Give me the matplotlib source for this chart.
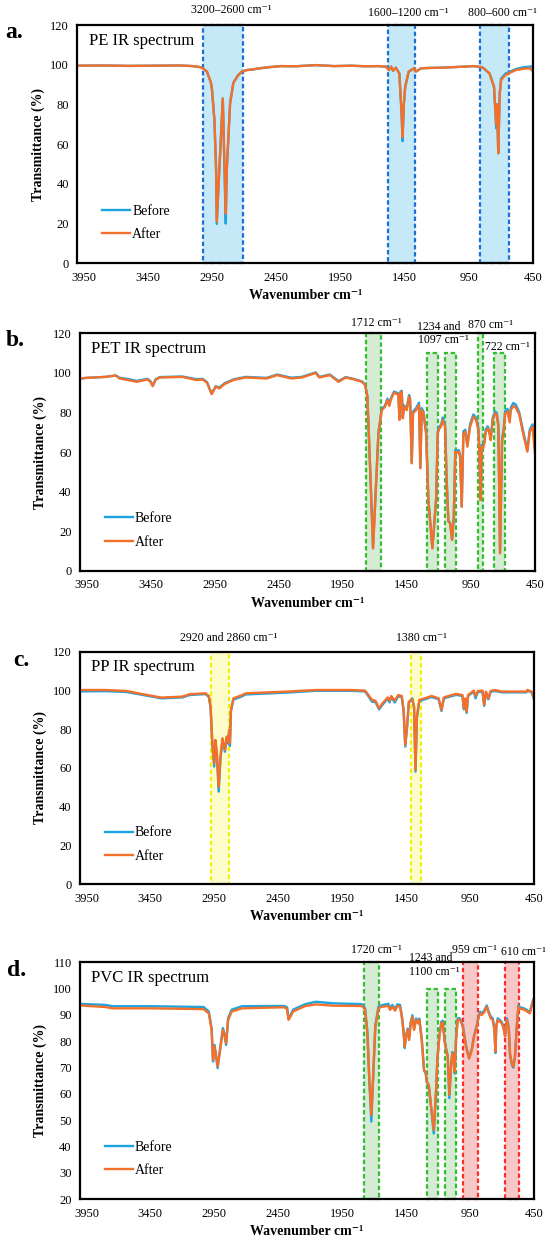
import numpy as np
import matplotlib
matplotlib.use('Agg')
import matplotlib.pyplot as plt
from matplotlib.patches import Rectangle

plt.rcParams['font.family'] = ['Liberation Serif', 'DejaVu Serif']

# ---------------- PE ----------------
pe_wn = [4000, 3800, 3600, 3400, 3200, 3100, 3044, 3018, 2990, 2962, 2953, 2932, 2919, 2914,
         2867, 2844, 2836, 2810, 2785, 2750, 2719, 2680, 2635, 2580, 2500, 2416, 2300, 2143,
         2000, 1870, 1750, 1652, 1597, 1575, 1556, 1542, 1520, 1493, 1475, 1468, 1458, 1447,
         1420, 1379, 1365, 1324, 1250, 1160, 1000, 914, 846, 791, 756, 739, 732, 723, 712,
         701, 668, 587, 520, 477, 450]
pe_after = [99.5, 99.6, 99.4, 99.5, 99.6, 99.3, 98.8, 98.0, 96.5, 91.5, 88.9, 72.0, 47.0, 21.0,
            83.0, 25.0, 47.0, 80.7, 90.8, 94.5, 96.5, 97.3, 97.6, 98.2, 98.8, 99.3, 99.2, 99.8,
            99.3, 99.5, 99.2, 99.3, 99.0, 97.3, 99.0, 97.0, 98.5, 95.6, 75.0, 63.5, 80.0, 88.9,
            96.5, 98.2, 96.5, 98.2, 98.4, 98.5, 99.0, 99.3, 98.7, 95.6, 88.9, 70.0, 80.0, 55.4, 85.0,
            92.3, 94.8, 97.3, 98.0, 98.2, 96.5]
pe_before = [99.5, 99.6, 99.4, 99.5, 99.6, 99.3, 98.8, 98.0, 96.5, 91.5, 88.9, 72.0, 47.0, 19.8,
             83.0, 20.0, 47.0, 80.7, 90.8, 94.5, 96.5, 97.3, 97.6, 98.2, 98.8, 99.3, 99.2, 99.8,
             99.3, 99.5, 99.2, 99.3, 99.0, 97.3, 99.0, 97.0, 98.5, 95.6, 75.0, 61.5, 80.0, 88.9,
             96.5, 98.2, 96.5, 98.2, 98.4, 98.5, 99.0, 99.3, 98.7, 95.6, 88.9, 68.0, 80.0, 55.4, 85.0,
             93.0, 95.5, 97.8, 98.8, 99.0, 99.2]
pe_band_lo = [2711, 1370, 641]
pe_band_hi = [3023, 1583, 865]
pe_band_top = [120, 120, 120]

# ---------------- PET ----------------
pet_wn = [4000, 3950, 3803, 3721, 3693, 3625, 3557, 3474, 3450, 3433, 3410, 3379, 3201, 3091,
          3042, 3009, 2973, 2941, 2913, 2872, 2800, 2708, 2544, 2462, 2352, 2270, 2188, 2161,
          2133, 2051, 1983, 1928, 1860, 1800, 1776, 1758, 1737, 1714, 1690, 1672, 1646, 1620,
          1602, 1587, 1576, 1550, 1516, 1508, 1500, 1490, 1482, 1472, 1451, 1433, 1425, 1412,
          1402, 1378, 1355, 1345, 1334, 1321, 1300, 1282, 1251, 1222, 1209, 1196, 1183, 1170,
          1152, 1139, 1126, 1113, 1097, 1084, 1072, 1063, 1045, 1035, 1022, 1009, 994, 978,
          957, 931, 910, 892, 884, 874, 866, 856, 845, 835, 819, 806, 796, 780, 762, 749, 736,
          723, 707, 697, 683, 665, 648, 640, 620, 600, 573, 546, 510, 491, 469, 450]
pet_after = [97.2, 97.5, 98.0, 98.7, 97.2, 96.4, 95.5, 96.7, 95.5, 93.3, 96.5, 97.7, 98.0, 96.4,
             96.7, 95.0, 89.3, 93.0, 92.2, 94.4, 96.5, 97.7, 97.2, 98.9, 97.2, 97.7, 99.4, 100.0,
             97.7, 98.9, 95.5, 97.7, 96.7, 95.5, 93.9, 88.0, 52.6, 11.3, 44.2, 69.4, 81.2, 82.9,
             86.3, 83.3, 86.3, 90.0, 89.0, 76.2, 90.0, 90.5, 77.0, 82.9, 81.2, 88.0, 86.3, 54.3,
             79.6, 81.2, 83.8, 51.8, 81.2, 79.6, 69.4, 35.7, 11.3, 35.7, 69.4, 72.0, 72.8, 76.2,
             72.8, 44.2, 24.8, 24.0, 15.5, 27.3, 60.2, 59.4, 60.2, 57.6, 32.3, 69.4, 70.3, 62.7,
             72.8, 77.9, 76.2, 71.1, 59.4, 35.7, 62.7, 61.9, 64.4, 70.3, 72.0, 69.4, 66.0, 76.2,
             79.6, 78.7, 72.8, 8.8, 66.0, 68.6, 79.5, 80.5, 75.0, 81.0, 83.3, 82.5, 79.0, 70.3,
             60.2, 70.3, 72.8, 59.3]
pet_before = [97.2, 97.5, 98.0, 98.7, 97.6, 96.9, 96.0, 97.0, 95.8, 93.6, 96.8, 97.9, 98.2, 96.8,
              97.0, 95.3, 89.6, 93.3, 92.6, 94.8, 96.8, 98.0, 97.5, 99.2, 97.6, 98.0, 99.7, 100.3,
              98.0, 99.2, 95.9, 97.9, 96.9, 95.7, 94.1, 88.2, 52.8, 11.5, 44.4, 69.8, 81.8, 83.5,
              87.0, 84.0, 87.0, 90.6, 89.6, 76.8, 90.5, 91.0, 77.5, 83.6, 82.0, 88.8, 87.2, 54.8,
              80.5, 82.2, 85.0, 52.2, 82.2, 80.5, 70.0, 36.0, 11.5, 36.0, 70.2, 73.0, 73.8, 77.5,
              73.8, 44.8, 25.2, 24.4, 15.8, 27.8, 61.0, 60.3, 61.0, 58.4, 32.6, 70.5, 71.3, 63.5,
              74.0, 79.0, 77.3, 72.1, 60.2, 36.0, 63.6, 63.0, 65.4, 71.4, 73.0, 70.4, 67.0, 77.5,
              80.5, 79.8, 73.8, 9.0, 67.5, 70.3, 80.8, 81.8, 76.0, 82.3, 84.8, 84.0, 80.0, 71.5,
              61.0, 71.5, 74.0, 62.0]
pet_band_lo = [1651, 1209, 1069, 853, 684]
pet_band_hi = [1768, 1290, 1152, 895, 767]
pet_band_top = [120, 110, 110, 120, 110]

# ---------------- PP ----------------
pp_wn = [4000, 3802, 3637, 3473, 3363, 3198, 3144, 3020, 2993, 2979, 2965, 2951, 2941, 2930,
         2916, 2902, 2886, 2867, 2853, 2842, 2834, 2828, 2820, 2801, 2732, 2705, 2376, 2156,
         1882, 1772, 1745, 1717, 1690, 1662, 1635, 1594, 1580, 1566, 1539, 1512, 1484, 1470,
         1457, 1443, 1429, 1402, 1388, 1377, 1366, 1347, 1306, 1251, 1196, 1174, 1155, 1059,
         1010, 999, 988, 977, 966, 922, 908, 889, 853, 840, 826, 807, 790, 757, 702, 510, 502,
         469, 450]
pp_after = [100.2, 100.2, 99.7, 97.6, 96.3, 96.8, 98.0, 98.5, 97.1, 91.6, 72.7, 62.4, 74.4, 67.6,
            50.4, 65.8, 75.3, 69.3, 76.2, 73.6, 79.6, 72.7, 89.9, 95.9, 97.6, 98.5, 99.4, 100.2,
            100.2, 99.9, 97.6, 95.1, 94.7, 90.8, 93.3, 96.4, 94.7, 97.1, 94.7, 97.6, 97.1, 89.9,
            71.9, 81.3, 94.2, 95.4, 91.6, 59.0, 86.5, 95.1, 95.9, 97.1, 95.9, 89.9, 96.4, 98.2,
            97.6, 90.8, 95.9, 89.0, 97.6, 99.9, 97.1, 99.7, 99.9, 92.5, 99.4, 95.9, 99.7, 100.2,
            99.4, 99.4, 100.2, 99.4, 95.9]
pp_before = [99.5, 99.6, 99.2, 97.2, 95.9, 96.4, 97.6, 98.1, 96.7, 91.0, 71.5, 60.7, 73.6, 66.8,
             47.8, 64.8, 74.5, 68.4, 75.4, 72.6, 78.8, 71.4, 89.2, 95.2, 97.0, 97.9, 98.9, 99.8,
             99.8, 99.5, 97.0, 94.2, 94.0, 90.2, 92.6, 95.8, 93.8, 96.5, 93.8, 97.0, 96.5, 89.3,
             71.0, 80.8, 93.5, 95.9, 91.0, 58.1, 85.8, 94.5, 95.4, 96.6, 95.4, 89.4, 95.9, 97.7,
             97.1, 90.2, 95.4, 88.4, 97.1, 99.4, 95.9, 99.2, 99.4, 92.0, 98.9, 95.4, 99.2, 99.7,
             99.0, 99.0, 99.8, 99.0, 95.4]
pp_band_lo = [2836, 1333]
pp_band_hi = [2979, 1416]
pp_band_top = [120, 120]

# ---------------- PVC ----------------
pvc_wn = [4000, 3802, 3747, 3445, 3034, 2993, 2971, 2960, 2949, 2938, 2924, 2908, 2883, 2869,
          2858, 2842, 2814, 2732, 2403, 2381, 2370, 2354, 2334, 2293, 2238, 2156, 2019, 1800,
          1786, 1771, 1753, 1738, 1722, 1707, 1691, 1667, 1641, 1589, 1576, 1558, 1537, 1519,
          1498, 1484, 1472, 1461, 1451, 1438, 1427, 1414, 1401, 1388, 1373, 1357, 1347, 1328,
          1310, 1297, 1289, 1273, 1263, 1234, 1216, 1206, 1190, 1175, 1164, 1151, 1138, 1125,
          1112, 1099, 1089, 1081, 1070, 1060, 1047, 1029, 1007, 982, 958, 937, 919, 898, 885,
          872, 859, 841, 820, 804, 789, 773, 760, 752, 745, 734, 716, 703, 690, 677, 663, 648,
          638, 624, 612, 599, 585, 572, 565, 524, 483, 455, 450]
pvc_after = [93.6, 93.0, 92.5, 92.5, 92.2, 90.6, 84.3, 72.9, 78.0, 74.8, 70.4, 75.5, 84.3, 81.8,
             79.2, 88.1, 91.3, 92.5, 92.9, 92.2, 88.1, 89.4, 91.3, 92.2, 93.4, 94.0, 93.5, 93.4,
             92.9, 91.9, 83.0, 65.3, 52.0, 67.8, 85.5, 92.5, 93.1, 93.4, 91.9, 93.1, 91.6, 93.4,
             93.1, 89.3, 84.3, 78.0, 81.8, 84.3, 80.5, 86.8, 89.3, 84.3, 88.1, 86.8, 88.1, 80.5,
             69.1, 68.4, 64.7, 63.4, 59.0, 46.3, 61.5, 72.9, 81.8, 86.8, 87.2, 80.5, 76.7, 74.2,
             59.6, 70.4, 75.4, 74.2, 68.4, 80.5, 88.1, 88.1, 85.5, 78.0, 73.5, 76.7, 81.8, 85.5,
             88.7, 90.6, 90.0, 90.9, 93.1, 90.6, 88.7, 88.1, 84.3, 76.1, 85.5, 88.1, 87.4, 86.8,
             85.3, 81.8, 88.1, 84.9, 75.5, 71.6, 70.4, 74.2, 85.5, 93.1, 92.5, 91.9, 90.6, 95.7,
             94.7]
pvc_before = [94.2, 93.8, 93.3, 93.3, 93.0, 91.3, 84.8, 72.3, 78.6, 75.4, 69.8, 76.1, 85.0, 82.5,
              78.6, 88.8, 92.0, 93.3, 93.4, 92.9, 88.7, 90.0, 92.0, 92.9, 94.1, 95.0, 94.4, 94.1,
              93.6, 92.4, 83.4, 65.0, 49.5, 67.6, 85.9, 93.1, 93.7, 94.2, 92.5, 93.8, 92.2, 94.0,
              93.8, 89.8, 84.6, 77.4, 82.2, 84.8, 80.9, 87.3, 89.9, 84.8, 88.7, 87.3, 88.6, 80.8,
              68.8, 67.8, 64.5, 63.0, 58.5, 45.0, 61.2, 73.3, 82.3, 87.4, 87.8, 80.9, 77.3, 74.6,
              58.4, 70.6, 75.9, 74.6, 67.8, 80.9, 88.7, 88.7, 86.0, 78.3, 73.5, 77.0, 82.2, 86.0,
              89.3, 91.2, 90.6, 91.5, 93.6, 91.2, 89.3, 88.7, 84.8, 75.5, 86.0, 88.7, 88.0, 87.3,
              85.8, 82.2, 88.7, 85.4, 74.9, 71.2, 70.0, 74.4, 86.0, 93.6, 93.0, 92.4, 91.1, 96.1,
              95.0]
pvc_band_lo = [1660, 1203, 1062, 886, 571]
pvc_band_hi = [1779, 1284, 1144, 1007, 675]
pvc_band_top = [110, 100, 100, 110, 110]

before_color = '#1ba4e2'
after_color = '#f4702a'

fig = plt.figure(figsize=(5.5, 12.5), dpi=100)


def draw_panel(rect, wn, before, after, title, letter, letter_xy, ylim, ystep,
               band_lo, band_hi, band_top, band_fc, band_ec, notes):
    ax = fig.add_axes(rect)
    for lo, hi, top, fc, ec in zip(band_lo, band_hi, band_top, band_fc, band_ec):
        ax.add_patch(Rectangle((lo, ylim[0]), hi - lo, top - ylim[0], facecolor=fc,
                               edgecolor='none', zorder=1))
        ax.add_patch(Rectangle((lo, ylim[0]), hi - lo, top - ylim[0], facecolor='none',
                               edgecolor=ec, lw=1.6, ls=(0, (2.0, 1.2)), zorder=1.5,
                               clip_on=False))
    ax.plot(wn, before, color=before_color, lw=1.7, label='Before', zorder=2)
    ax.plot(wn, after, color=after_color, lw=1.7, label='After', zorder=3)
    ax.set_xlim(4000, 450)
    ax.set_ylim(*ylim)
    ax.set_xticks(np.arange(3950, 449, -500))
    ax.set_yticks(np.arange(ylim[0], ylim[1] + 1, ystep))
    ax.tick_params(length=0, labelsize=9, pad=6)
    for s in ax.spines.values():
        s.set_linewidth(1.6)
        s.set_zorder(4)
    ax.set_ylabel('Transmittance (%)', fontsize=10, fontweight='bold', labelpad=4)
    ax.set_xlabel('Wavenumber cm⁻¹', fontsize=10, fontweight='bold', labelpad=4)
    ax.text(0.025, 0.934, title, transform=ax.transAxes, fontsize=12, va='center', ha='left')
    ax.legend(loc='center left', bbox_to_anchor=(0.055, 0.17), frameon=False, borderpad=0,
              borderaxespad=0, handlelength=2.0, handletextpad=0.15, labelspacing=0.75,
              fontsize=10)
    for txt, x, y in notes:
        ax.text(x, y, txt, fontsize=8.5, ha='center', va='center', clip_on=False)
    fig.text(letter_xy[0] / 550, 1 - letter_xy[1] / 1250, letter, fontsize=17,
             fontweight='bold', ha='center', va='center')
    return ax


blue_fc, blue_ec = '#c6e9f8', '#1b6fd8'
green_fc, green_ec = '#d5ebd3', '#2fbf2f'
yellow_fc, yellow_ec = '#fdfccb', '#f2f200'
red_fc, red_ec = '#f6c9c8', '#ff2a2a'

draw_panel([0.1404, 0.7894, 0.8293, 0.1906], pe_wn, pe_before, pe_after, 'PE IR spectrum', 'a.',
           (14, 33), (0, 120), 20, pe_band_lo, pe_band_hi, pe_band_top,
           [blue_fc] * 3, [blue_ec] * 3,
           [('3200–2600 cm⁻¹', 2800, 127.5), ('1600–1200 cm⁻¹', 1422, 125.9),
            ('800–600 cm⁻¹', 690, 125.9)])

draw_panel([0.1455, 0.5434, 0.8273, 0.1899], pet_wn, pet_before, pet_after, 'PET IR spectrum', 'b.',
           (15, 340), (0, 120), 20, pet_band_lo, pet_band_hi, pet_band_top,
           [green_fc] * 5, [green_ec] * 5,
           [('1712 cm⁻¹', 1685, 125.4), ('1234 and', 1201, 123.3), ('1097 cm⁻¹', 1165, 116.6),
            ('870 cm⁻¹', 795, 124.2), ('722 cm⁻¹', 663, 113.2)])

draw_panel([0.1455, 0.2926, 0.8255, 0.1861], pp_wn, pp_before, pp_after, 'PP IR spectrum', 'c.',
           (21, 660), (0, 120), 20, pp_band_lo, pp_band_hi, pp_band_top,
           [yellow_fc] * 2, [yellow_ec] * 2,
           [('2920 and 2860 cm⁻¹', 2839, 126.9), ('1380 cm⁻¹', 1328, 126.9)])

draw_panel([0.1455, 0.0406, 0.8255, 0.1896], pvc_wn, pvc_before, pvc_after, 'PVC IR spectrum', 'd.',
           (16.5, 970), (20, 110), 10, pvc_band_lo, pvc_band_hi, pvc_band_top,
           [green_fc] * 3 + [red_fc] * 2, [green_ec] * 3 + [red_ec] * 2,
           [('1720 cm⁻¹', 1680, 114.7), ('1243 and', 1255, 111.5), ('1100 cm⁻¹', 1229, 106.4),
            ('959 cm⁻¹', 914, 114.7), ('610 cm⁻¹', 535, 114.0)])

fig.savefig('out.png', dpi=100)
